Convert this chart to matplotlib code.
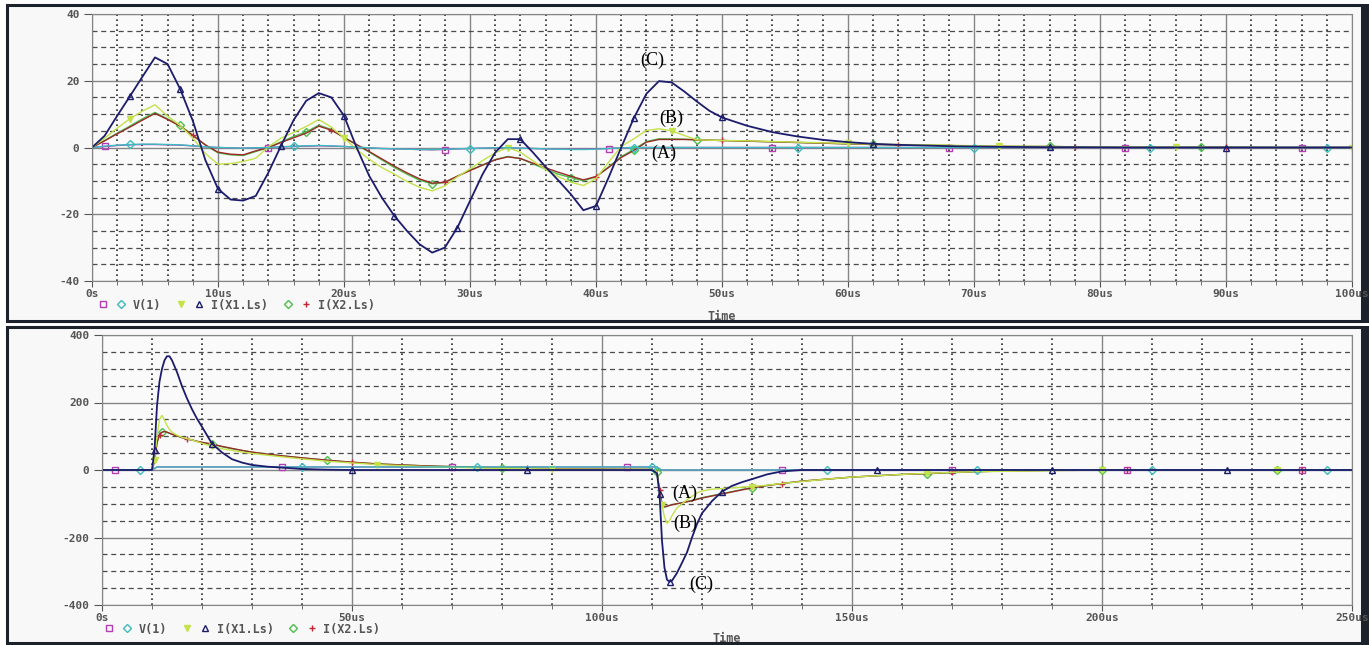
import matplotlib
matplotlib.use("Agg")
import matplotlib.pyplot as plt
from matplotlib.lines import Line2D
from matplotlib.patches import Rectangle
from matplotlib.legend_handler import HandlerTuple
from matplotlib.ticker import MultipleLocator

plt.rcParams['axes.unicode_minus'] = False

W, H = 1369, 645

# ---------------- top plot: 0 .. 100 us ----------------
t_top = list(range(0, 51)) + list(range(52, 101, 2))

navy_top = [0, 3.5, 9.5, 15.3, 21.2, 27.0, 25.0, 17.5, 8.0, -3.8,
            -12.4, -15.6, -15.9, -14.5, -7.5, 0.5, 8.2, 14.0, 16.3, 15.0,
            9.5, 0.0, -8.5, -15.0, -20.5, -25.0, -29.0, -31.5, -30.0, -24.0,
            -16.0, -8.0, -1.5, 2.5, 2.5, -1.5, -5.8, -9.8, -14.0, -18.8,
            -17.5, -9.0, 0.0, 8.8, 16.1, 19.9, 19.5, 16.8, 13.8, 11.0,
            9.0,
            6.5, 4.6, 3.3, 2.3, 1.6, 1.1, 0.8, 0.6, 0.4, 0.3,
            0.2, 0.15, 0.1, 0.1, 0.05, 0, 0, 0, 0, 0, 0, 0, 0, 0, 0]

yellow_top = [0, 2.8, 5.8, 8.6, 10.9, 12.8, 9.4, 6.6, 2.8, -1.8,
              -5.0, -4.8, -4.2, -3.2, 0.2, 2.8, 4.5, 6.3, 8.4, 6.1,
              2.9, -0.6, -3.5, -6.0, -8.0, -10.2, -11.9, -13.0, -11.5, -8.8,
              -6.4, -3.9, -1.6, 0.0, -1.4, -4.0, -6.6, -8.7, -10.4, -11.4,
              -9.3, -4.4, 0.3, 2.6, 5.1, 5.6, 5.0, 3.6, 2.3, 2.2,
              2.1,
              2.0, 1.8, 1.6, 1.4, 1.2, 1.0, 0.9, 0.8, 0.7, 0.5,
              0.4, 0.35, 0.3, 0.25, 0.2, 0.15, 0.1, 0.1, 0.1, 0.05,
              0.05, 0, 0, 0, 0]

red_top = [0, 2.0, 4.1, 6.1, 8.2, 10.2, 8.4, 6.4, 3.6, 0.8,
           -1.4, -2.0, -2.2, -1.0, 0.0, 1.5, 2.9, 4.3, 6.4, 5.2,
           3.0, 0.9, -1.2, -3.4, -5.6, -7.6, -9.4, -10.7, -10.4, -8.6,
           -6.9, -5.3, -3.7, -2.8, -3.3, -4.7, -6.1, -7.4, -8.6, -9.7,
           -8.7, -6.0, -3.0, -0.9, 1.6, 2.4, 2.4, 2.4, 2.3, 2.2,
           2.1,
           1.9, 1.7, 1.5, 1.3, 1.1, 0.9, 0.8, 0.7, 0.6, 0.4,
           0.35, 0.3, 0.3, 0.2, 0.2, 0.15, 0.1, 0.1, 0.1, 0.1,
           0.05, 0, 0, 0, 0]

green_top = [0, 2.1, 4.3, 6.4, 8.6, 10.5, 8.6, 6.6, 3.7, 0.7,
             -1.6, -2.2, -2.4, -1.2, 0.0, 1.7, 3.3, 4.7, 6.7, 5.4,
             3.0, 0.8, -1.4, -3.7, -6.0, -8.0, -9.8, -10.9, -10.5, -8.6,
             -6.8, -5.2, -3.6, -2.7, -3.3, -4.9, -6.5, -8.0, -9.0, -10.0,
             -8.8, -5.8, -2.7, -0.6, 1.8, 2.6, 2.6, 2.5, 2.3, 2.2,
             2.1,
             1.9, 1.7, 1.5, 1.3, 1.1, 0.9, 0.8, 0.7, 0.6, 0.4,
             0.35, 0.3, 0.3, 0.2, 0.2, 0.15, 0.1, 0.1, 0.1, 0.1,
             0.05, 0, 0, 0, 0]

cyan_top = [0, 0.4, 0.7, 0.9, 1.0, 1.0, 0.9, 0.8, 0.5, 0.2,
            0.0, -0.1, -0.2, -0.1, 0.0, 0.2, 0.4, 0.5, 0.6, 0.5,
            0.3, 0.1, -0.1, -0.3, -0.4, -0.5, -0.6, -0.6, -0.5, -0.4,
            -0.3, -0.2, -0.1, -0.1, -0.2, -0.3, -0.4, -0.5, -0.6, -0.6,
            -0.5, -0.3, -0.1, 0, 0, 0, 0, 0, 0, 0,
            0] + [0.0] * 25

magenta_top = [0, 0.3, 0.6, 0.8, 0.9, 0.9, 0.8, 0.7, 0.5, 0.2,
               0.0, -0.1, -0.2, -0.1, 0.0, 0.2, 0.3, 0.4, 0.5, 0.4,
               0.3, 0.1, -0.1, -0.3, -0.4, -0.5, -0.6, -0.7, -0.6, -0.4,
               -0.3, -0.2, -0.1, -0.1, -0.2, -0.3, -0.4, -0.5, -0.5, -0.5,
               -0.4, -0.3, -0.1, 0, 0, 0, 0, 0, 0, 0,
               0] + [0.0] * 25

marks_top = {
    'magenta': [1, 14, 28, 41, 54, 68, 82, 96],
    'cyan': [3, 16, 30, 43, 56, 70, 84, 98],
    'yellow': [3, 20, 33, 46, 60, 72, 86, 100],
    'navy': [3, 7, 10, 15, 20, 24, 29, 34, 40, 43, 50, 62, 76, 90],
    'green': [7, 17, 27, 38, 43, 48, 62, 76, 88],
    'red': [8, 19, 28, 40, 50, 64, 78, 90],
}

# ---------------- bottom plot: 0 .. 250 us ----------------
t_bot = ([0, 2.5, 5, 7.5, 10]
         + [10.5, 11, 11.5, 12, 12.5, 13, 13.5]
         + [14, 15, 16, 17, 18, 19, 20]
         + [22, 24, 26, 28, 30]
         + [33, 36]
         + list(range(40, 111, 5))
         + [111, 111.5, 112, 112.5, 113, 113.5, 114]
         + [115, 116, 117, 118, 119, 120]
         + [122, 124, 126, 128, 130]
         + [133, 136]
         + list(range(140, 251, 5)))

navy_bot = ([0, 0, 0, 0, 0]
            + [60, 190, 262, 300, 325, 337, 337]
            + [325, 290, 248, 212, 180, 152, 128]
            + [78, 52, 32, 22, 15]
            + [10, 7]
            + [3, 1, 0, 0, 0, 0, 0, 0, 0, 0, 0, 0, 0, 0, 0]
            + [-10, -70, -210, -290, -325, -331, -328]
            + [-305, -275, -244, -200, -160, -128]
            + [-92, -64, -47, -36, -27]
            + [-13, -4]
            + [0] * 23)

yellow_bot = ([0, 0, 0, 0, 0]
              + [30, 100, 150, 162, 148, 132, 120]
              + [112, 103, 97, 93, 89, 84, 79]
              + [70, 63, 58, 53, 49]
              + [44, 39]
              + [33, 26, 21, 16, 13, 10, 8, 6, 5, 4, 3, 2.5, 2, 2, 2]
              + [-5, -75, -105, -140, -158, -150, -135]
              + [-112, -100, -88, -78, -68, -62]
              + [-57, -55, -53, -51, -49]
              + [-45, -40]
              + [-34, -27, -21, -17, -13, -10, -7, -5, -4, -3, -2, -1,
                 -1, 0, 0, 0, 0, 0, 0, 0, 0, 0, 0])

red_bot = ([0, 0, 0, 0, 0]
           + [25, 80, 105, 112, 114, 112, 109]
           + [106, 101, 96, 92, 89, 85, 82]
           + [77, 70, 64, 58, 53]
           + [47, 42]
           + [36, 29, 23, 18, 15, 12, 10, 8, 6, 5, 4, 3, 2.5, 2, 2]
           + [-5, -60, -100, -109, -107, -105, -103]
           + [-100, -97, -94, -91, -87, -83]
           + [-77, -71, -65, -59, -53]
           + [-46, -40]
           + [-33, -27, -21, -17, -13, -11, -7, -5, -3, -2, -1, -1,
              0, 0, 0, 0, 0, 0, 0, 0, 0, 0, 0])

green_bot = ([0, 0, 0, 0, 0]
             + [26, 82, 106, 112, 114, 112, 109]
             + [106, 101, 96, 92, 89, 85, 81]
             + [76, 69, 63, 58, 53]
             + [47, 42]
             + [36, 29, 23, 18, 15, 12, 10, 8, 6, 5, 4, 3, 2.5, 2, 2]
             + [-5, -62, -102, -110, -108, -105, -103]
             + [-100, -97, -94, -90, -86, -82]
             + [-76, -70, -64, -58, -52]
             + [-46, -40]
             + [-33, -27, -21, -17, -13, -11, -8, -5, -3, -2, -1, -1,
                0, 0, 0, 0, 0, 0, 0, 0, 0, 0, 0])

cyan_bot = ([0, 0, 0, 0, 0]
            + [5, 9, 9, 9, 9, 9, 9]
            + [9] * 7 + [9] * 5 + [9] * 2 + [9] * 15
            + [9, 4, 0, 0, 0, 0, 0]
            + [0] * 6 + [0] * 5 + [0] * 2 + [0] * 23)

magenta_bot = ([0, 0, 0, 0, 0]
               + [4, 9, 9, 9, 9, 9, 9]
               + [9] * 7 + [9] * 5 + [9] * 2 + [9] * 15
               + [9, 3, 0, 0, 0, 0, 0]
               + [0] * 6 + [0] * 5 + [0] * 2 + [0] * 23)

marks_bot = {
    'magenta': [2.5, 36, 70, 105, 136, 170, 205, 240],
    'cyan': [7.5, 40, 75, 110, 145, 175, 210, 245],
    'yellow': [10.5, 22, 55, 90, 112, 130, 165, 200, 235],
    'navy': [10.5, 22, 50, 85, 111.5, 113.5, 124, 155, 190, 225],
    'green': [12, 22, 45, 80, 111, 130, 165, 200, 235],
    'red': [11.5, 17, 50, 85, 111.5, 136, 170, 205, 240],
}

names = ['V(1)', 'I(X1.Ls)', 'I(X2.Ls)']

# trace styles: colour, marker, filled?
style = {
    'magenta': ('#b43cb4', 's', False),
    'cyan': ('#3cbcc0', 'D', False),
    'yellow': ('#c4e24a', 'v', True),
    'navy': ('#1c1c6c', '^', False),
    'green': ('#4cc04c', 'D', False),
    'red': ('#9a2a2a', '+', False),
}
order = ['magenta', 'green', 'red', 'yellow', 'cyan', 'navy']

grey = '#555555'
tick_font = dict(family='DejaVu Sans Mono', weight='bold', size=8)


def draw_traces(ax, t, series, marks):
    for key in order:
        col, mk, filled = style[key]
        idx = [t.index(m) for m in marks[key]]
        lw = 1.3 if key == 'navy' else 1.0
        mcol = '#c02838' if key == 'red' else col
        ax.plot(t, series[key], color=col, lw=lw, marker=mk,
                markevery=idx, ms=4 if mk != '+' else 5,
                mfc=col if filled else 'none', mec=mcol, mew=1.0)


def style_axes(ax, xmax, xmajor, xminor, ymax, ymajor, yminor, xlabels, ylabels):
    ax.set_facecolor('#fafafa')
    ax.set_xlim(0, xmax)
    ax.set_ylim(-ymax, ymax)
    ax.set_xticks([i * xmajor for i in range(len(xlabels))], xlabels)
    ax.set_yticks([ymax - i * ymajor for i in range(len(ylabels))], ylabels)
    ax.xaxis.set_minor_locator(MultipleLocator(xminor))
    ax.yaxis.set_minor_locator(MultipleLocator(yminor))
    ax.grid(which='major', color='#858585', lw=1.0, ls='-')
    ax.xaxis.grid(True, which='minor', color='#2a2a2a', lw=1.2, ls=(0, (1, 2)))
    ax.yaxis.grid(True, which='minor', color='#4a4a4a', lw=0.9, ls=(0, (4, 3)))
    ax.set_axisbelow(True)
    for s in ax.spines.values():
        s.set_color('#858585')
    ax.tick_params(axis='x', which='major', direction='out', length=4,
                   color=grey, labelcolor=grey, pad=1.5)
    ax.tick_params(axis='x', which='minor', direction='out', length=3, color=grey)
    ax.tick_params(axis='y', which='major', direction='out', length=6,
                   color=grey, labelcolor=grey, pad=3)
    ax.tick_params(axis='y', which='minor', length=0)
    for lab in ax.get_xticklabels() + ax.get_yticklabels():
        lab.set_fontproperties(tick_font)
    ax.set_xlabel('Time', fontdict=dict(family='DejaVu Sans Mono', weight='bold',
                                        size=8.5, color=grey))


def add_legend(ax, x, y):
    def proxy(key):
        col, mk, filled = style[key]
        mcol = '#c02838' if key == 'red' else col
        return Line2D([], [], ls='none', marker=mk, ms=4 if mk != '+' else 5,
                      mfc=col if filled else 'none', mec=mcol, mew=1.0)
    handles = [(proxy('magenta'), proxy('cyan')),
               (proxy('yellow'), proxy('navy')),
               (proxy('green'), proxy('red'))]
    leg = ax.legend(handles, names, loc='center left', bbox_to_anchor=(x, y),
                    ncol=3, frameon=False, borderpad=0, borderaxespad=0,
                    handlelength=3.1, handletextpad=0.2, columnspacing=0.9,
                    handler_map={tuple: HandlerTuple(ndivide=None, pad=0)},
                    prop=dict(family='DejaVu Sans Mono', weight='bold', size=8.5))
    for txt in leg.get_texts():
        txt.set_color(grey)


fig = plt.figure(figsize=(W / 100, H / 100), dpi=100)
fig.patch.set_facecolor('white')


def frame(x0, y0, x1, y1):
    fig.patches.append(Rectangle((x0 / W, 1 - y1 / H), (x1 - x0) / W, (y1 - y0) / H,
                                 transform=fig.transFigure, facecolor='#f8f8f8',
                                 edgecolor='#1b222c', lw=2.2, zorder=-5))
    fig.patches.append(Rectangle((1361 / W, 1 - (y1 + 1.5) / H), 8 / W, (y1 - y0 + 3) / H,
                                 transform=fig.transFigure, facecolor='#1b222c',
                                 edgecolor='none', zorder=-4))


frame(6.5, 5.5, 1362, 321)
frame(6.5, 327, 1362, 643)

# top axes
ax1 = fig.add_axes([92 / W, 1 - 281 / H, 1260 / W, 267 / H])
draw_traces(ax1, t_top, dict(magenta=magenta_top, cyan=cyan_top, yellow=yellow_top,
                             navy=navy_top, green=green_top, red=red_top), marks_top)
style_axes(ax1, 100, 10, 2, 40, 20, 5,
           ['0s', '10us', '20us', '30us', '40us', '50us', '60us', '70us',
            '80us', '90us', '100us'],
           ['40', '20', '0', '-20', '-40'])
ax1.xaxis.set_label_coords(0.5, -(310 - 281) / 267)
add_legend(ax1, 0.0015, -(305 - 281) / 267)
serif = dict(family='Liberation Serif', size=13, ha='center', va='center')
ax1.text(44.5, 26.0, '(C)', **serif)
ax1.text(46.0, 8.7, '(B)', **serif)
ax1.text(45.4, -1.8, '(A)', **serif)

# bottom axes
ax2 = fig.add_axes([102 / W, 1 - 605 / H, 1250 / W, 270 / H])
draw_traces(ax2, t_bot, dict(magenta=magenta_bot, cyan=cyan_bot, yellow=yellow_bot,
                             navy=navy_bot, green=green_bot, red=red_bot), marks_bot)
style_axes(ax2, 250, 50, 10, 400, 200, 50,
           ['0s', '50us', '100us', '150us', '200us', '250us'],
           ['400', '200', '0', '-200', '-400'])
ax2.xaxis.set_label_coords(0.5, -(632 - 605) / 270)
add_legend(ax2, -0.002, -(629 - 605) / 270)
ax2.text(116.6, -68, '(A)', **serif)
ax2.text(116.6, -157, '(B)', **serif)
ax2.text(119.8, -338, '(C)', **serif)

fig.savefig('out.png', dpi=100)
